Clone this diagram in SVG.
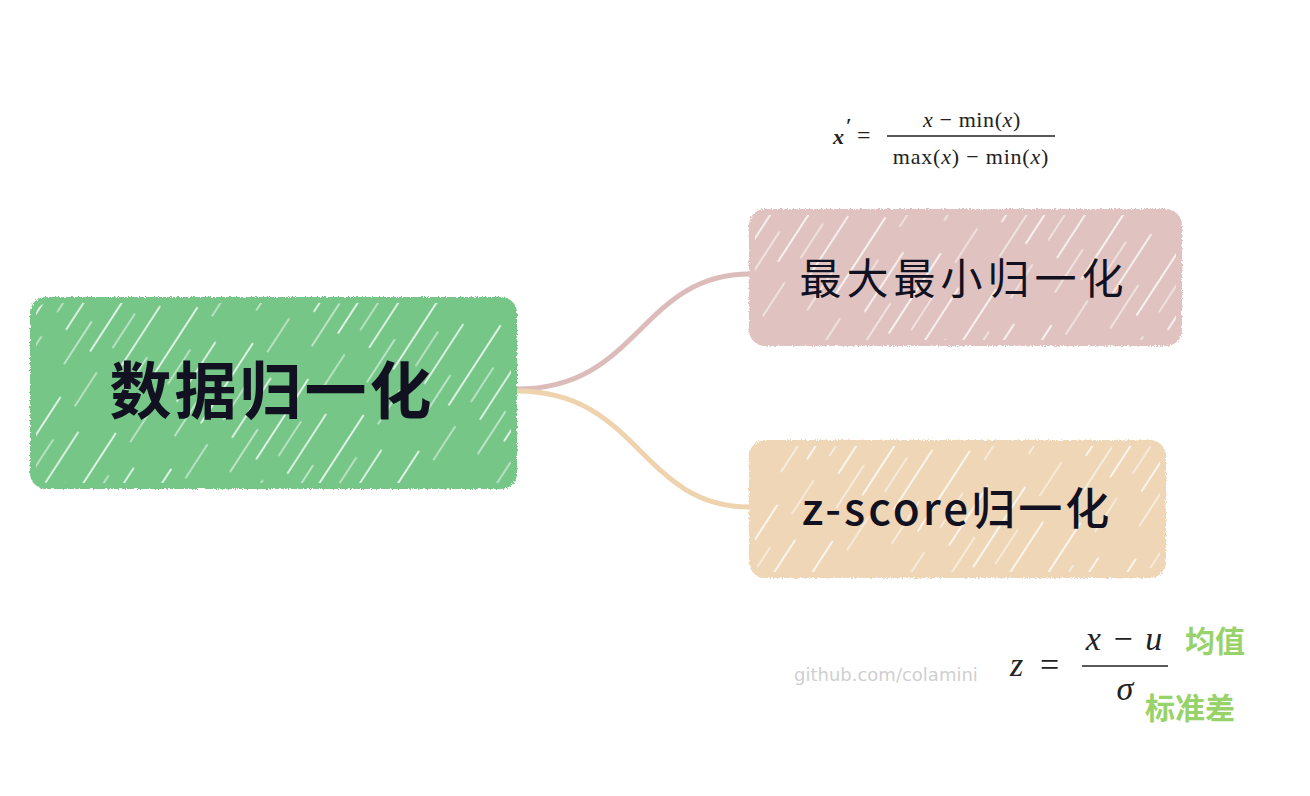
<svg xmlns="http://www.w3.org/2000/svg" width="1310" height="796" viewBox="0 0 1310 796">
<defs>
<style>
.hatch{stroke:#ffffff;stroke-width:1.7;stroke-linecap:round;fill:none}
.lbl{font-family:"Noto Sans CJK SC","Liberation Sans",sans-serif;fill:#111122;text-anchor:middle}
.math{font-family:"Liberation Serif","DejaVu Serif",serif;fill:#222}
.green{font-family:"Noto Sans CJK SC",sans-serif;fill:#97d26a;font-weight:bold}
.conn{fill:none;stroke-width:5;stroke-linecap:round}
</style>
<filter id="rough" x="-5%" y="-5%" width="110%" height="110%">
<feTurbulence type="fractalNoise" baseFrequency="0.6" numOctaves="2" seed="3"/>
<feDisplacementMap in="SourceGraphic" scale="4"/>
</filter>
<pattern id="hp" width="66" height="150" patternUnits="userSpaceOnUse" patternTransform="rotate(33)">
<line x1="3" y1="0" x2="3" y2="150" class="hatch" stroke-dasharray="95 55" opacity="0.9"/>
<line x1="20" y1="40" x2="20" y2="150" class="hatch" stroke-dasharray="40 30" opacity="0.55"/>
<line x1="37" y1="20" x2="37" y2="150" class="hatch" stroke-dasharray="70 60" opacity="0.85"/>
<line x1="54" y1="70" x2="54" y2="150" class="hatch" stroke-dasharray="50 40" opacity="0.6"/>
</pattern>
</defs>
<rect width="1310" height="796" fill="#ffffff"/>
<g id="connectors">
<path class="conn" stroke="#dcbcba" d="M517,389 C640,389 640,274 750,274"/>
<path class="conn" stroke="#efd3ae" d="M517,391 C640,391 640,507 750,507"/>
</g>
<g id="root">
<rect x="30" y="297" width="487" height="192" rx="16" fill="#74c687" filter="url(#rough)"/>
<rect x="36" y="303" width="475" height="180" rx="12" fill="url(#hp)"/>
<text class="lbl" x="272" y="414" font-size="62" font-weight="bold" letter-spacing="3">数据归一化</text>
</g>
<g id="node-minmax">
<rect x="749" y="209" width="433" height="137" rx="16" fill="#e0c3c1" filter="url(#rough)"/>
<rect x="755" y="215" width="421" height="125" rx="12" fill="url(#hp)"/>
<text class="lbl" x="964" y="294" font-size="42" letter-spacing="5">最大最小归一化</text>
</g>
<g id="node-zscore">
<rect x="749" y="440" width="417" height="138" rx="16" fill="#efd6b6" filter="url(#rough)"/>
<rect x="755" y="446" width="405" height="126" rx="12" fill="url(#hp)"/>
<text class="lbl" x="957" y="525" font-size="44" font-weight="500" letter-spacing="3">z-score归一化</text>
</g>
<g id="formula-minmax">
<text class="math" x="833" y="144" font-size="22" font-style="italic" font-weight="bold">x</text>
<text class="math" x="846" y="133" font-size="20" font-weight="bold">′</text>
<text class="math" x="857" y="143" font-size="24">=</text>
<text class="math" x="972" y="127" font-size="22" text-anchor="middle" letter-spacing="0.6"><tspan font-style="italic">x</tspan> − min(<tspan font-style="italic">x</tspan>)</text>
<line x1="887" y1="136" x2="1055" y2="136" stroke="#222" stroke-width="1.4"/>
<text class="math" x="971" y="164" font-size="22" text-anchor="middle" letter-spacing="0.8">max(<tspan font-style="italic">x</tspan>) − min(<tspan font-style="italic">x</tspan>)</text>
</g>
<g id="formula-z">
<text class="math" x="1010" y="676" font-size="34" font-style="italic">z</text>
<text class="math" x="1040" y="676" font-size="34">=</text>
<text class="math" x="1125" y="650" font-size="34" text-anchor="middle" letter-spacing="2"><tspan font-style="italic">x</tspan> − <tspan font-style="italic">u</tspan></text>
<line x1="1082" y1="666" x2="1168" y2="666" stroke="#222" stroke-width="1.5"/>
<text class="math" x="1125" y="700" font-size="34" font-style="italic" text-anchor="middle">σ</text>
<text class="green" x="1185" y="652" font-size="30">均值</text>
<text class="green" x="1145" y="719" font-size="30">标准差</text>
</g>
<text x="794" y="681" font-family="DejaVu Sans,sans-serif" font-size="18" fill="#cfcfcf">github.com/colamini</text>
</svg>
